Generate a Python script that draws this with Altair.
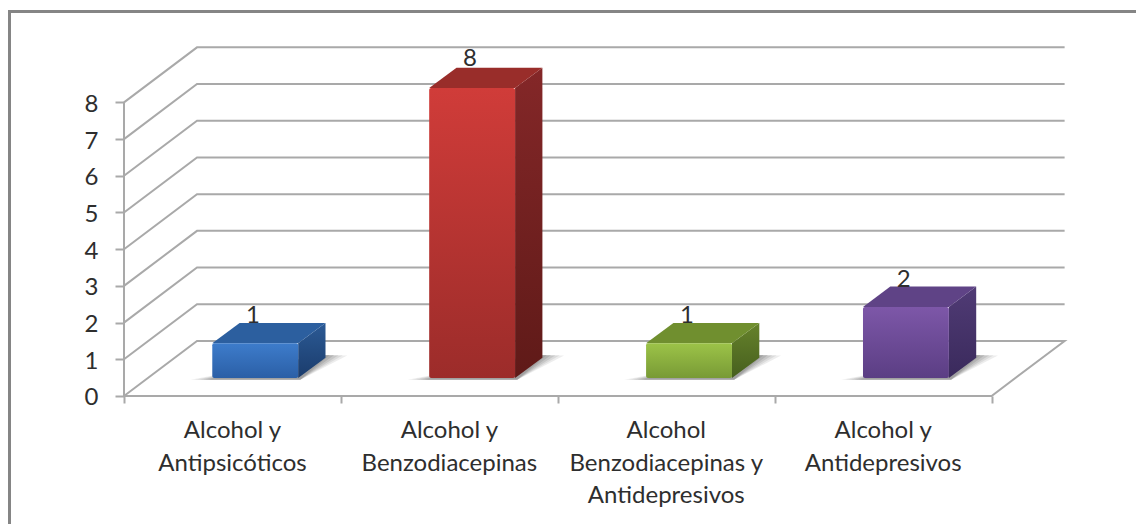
import altair as alt
import pandas as pd

categories = ["Alcohol y\nAntipsicóticos", "Alcohol y\nBenzodiacepinas",
              "Alcohol\nBenzodiacepinas y\nAntidepresivos", "Alcohol y\nAntidepresivos"]
values = [1, 8, 1, 2]
y_ticks = [0, 1, 2, 3, 4, 5, 6, 7, 8]
x_ticks = [0, 1, 2, 3, 4]
front_colors = [("#3d7ccb", "#2b5fa6"), ("#d03c39", "#9c2c2a"), ("#9cc348", "#789a35"), ("#7d57a8", "#5b3e84")]
top_colors = ["#2c5f9f", "#992d2a", "#708f2f", "#5f4386"]
side_colors = [("#2b5a95", "#1b3c6c"), ("#842728", "#5f1a18"), ("#66822b", "#465f1e"), ("#503b75", "#3a2a5c")]

# Projection: category units horizontally, value units vertically
WALL_DX, WALL_DY = 0.3366, 1.5
BAR_HALF, BAR_DX, BAR_DY = 0.198, 0.126, 0.553
BAR_SHIFT, BASE_Y, TOP_Y0, BAR_K = 0.105, 0.49, 0.44, 0.9937

W, H = 1128, 516
x_scale = alt.Scale(domain=[-0.5348, 4.6657], nice=False, zero=False)
y_scale = alt.Scale(domain=[-3.488, 10.572], nice=False, zero=False)
GRID = "#a9a9a9"
INK = "#2e2e2e"
FONT = "Lato"

x_axis = alt.Axis(values=x_ticks, offset=-128, domain=False, grid=False, labels=False, title=None,
                  tickColor=GRID, tickSize=7, tickWidth=2)
y_axis = alt.Axis(values=y_ticks, offset=-116, domain=False, grid=False, format="d", title=None,
                  tickColor=GRID, tickSize=9, tickWidth=2, labelPadding=17, labelOffset=2,
                  labelFont=FONT, labelFontSize=24, labelColor=INK)
X = alt.X("x:Q", scale=x_scale, axis=x_axis)
Y = alt.Y("y:Q", scale=y_scale, axis=y_axis)


def line(points, color=GRID, width=2.0):
    d = pd.DataFrame(points, columns=["x", "y"]).assign(o=range(len(points)))
    return alt.Chart(d).mark_line(color=color, strokeWidth=width, clip=True).encode(x=X, y=Y, order="o:Q")


def grad(c1, c2, x2=0, y2=1):
    return alt.Gradient(gradient="linear", x1=0, y1=0, x2=x2, y2=y2,
                        stops=[alt.GradientStop(offset=0, color=c1), alt.GradientStop(offset=1, color=c2)])


layers = []

# outer frame
layers.append(alt.Chart(pd.DataFrame({"a": [0]})).mark_rule(color="#858585", strokeWidth=3).encode(
    x=alt.value(1.5), y=alt.value(2), y2=alt.value(H)))
layers.append(alt.Chart(pd.DataFrame({"a": [0]})).mark_rule(color="#858585", strokeWidth=3).encode(
    x=alt.value(0), x2=alt.value(W), y=alt.value(3.5)))

# walls and floor
for v in y_ticks[1:]:
    layers.append(line([(0, v), (WALL_DX, v + WALL_DY), (4 + WALL_DX, v + WALL_DY)]))
layers.append(line([(0, 0), (WALL_DX, WALL_DY), (4 + WALL_DX, WALL_DY), (4, 0), (0, 0)]))
layers.append(line([(0, 0), (0, 8)]))

# bars
for i, v in enumerate(values):
    c = i + 0.5 + BAR_SHIFT
    xl, xr = c - BAR_HALF, c + BAR_HALF
    top = TOP_Y0 + v * BAR_K

    # soft floor shadow
    for spread, op in [(0.1, 0.12), (0.08, 0.14), (0.06, 0.18), (0.04, 0.22), (0.02, 0.26)]:
        sh = pd.DataFrame({
            "y": [BASE_Y - 0.05, BASE_Y + BAR_DY + 0.08 - 0.2 * spread],
            "x": [xl - spread, xr + BAR_DX - 0.03],
            "x2": [xr + 0.01, xr + BAR_DX + spread],
        })
        layers.append(alt.Chart(sh).mark_area(orient="horizontal", color="#6f6f6f", opacity=op).encode(
            y=Y, x=X, x2="x2:Q"))

    side = pd.DataFrame({"x": [xr, xr + BAR_DX], "y": [top, top + BAR_DY], "y2": [BASE_Y, BASE_Y + BAR_DY]})
    layers.append(alt.Chart(side).mark_area(orient="vertical", color=grad(*side_colors[i])).encode(
        x=X, y=Y, y2="y2:Q"))
    roof = pd.DataFrame({"y": [top, top + BAR_DY], "x": [xl, xl + BAR_DX], "x2": [xr, xr + BAR_DX]})
    layers.append(alt.Chart(roof).mark_area(orient="horizontal", color=top_colors[i]).encode(
        y=Y, x=X, x2="x2:Q"))
    front = pd.DataFrame({"x": [xl], "x2": [xr], "y": [top], "y2": [BASE_Y]})
    layers.append(alt.Chart(front).mark_rect(color=grad(*front_colors[i]), cornerRadius=2).encode(
        x=X, x2="x2:Q", y=Y, y2="y2:Q"))

# value labels
labels = pd.DataFrame({"x": [i + 0.595 for i in range(4)], "y": [v + 1.17 for v in values], "t": values})
layers.append(alt.Chart(labels).mark_text(font=FONT, fontSize=24, color=INK).encode(x=X, y=Y, text="t:Q"))

# category labels
cats = pd.DataFrame({"x": [i + 0.5 for i in range(4)], "y": [-0.64] * 4, "t": categories})
layers.append(alt.Chart(cats).mark_text(font=FONT, fontSize=24, color=INK, lineBreak="\n", lineHeight=32.5,
                                        baseline="top", align="center").encode(x=X, y=Y, text="t:N"))

chart = alt.layer(*layers).properties(width=W, height=H, padding=0, autosize="none").configure_view(stroke=None)
chart.save("out.html", embed_options={"renderer": "svg", "actions": False})
